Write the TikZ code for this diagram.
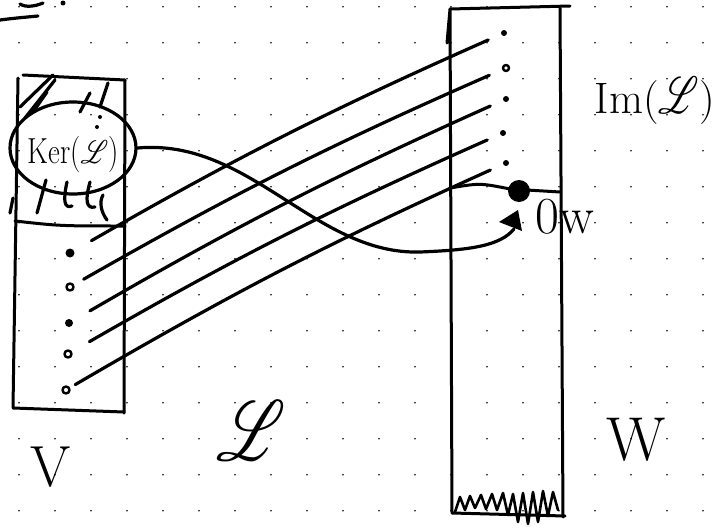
\documentclass[tikz,border=0pt]{standalone}
\usepackage{fontspec}
\usepackage{graphicx}
\usepackage{mathrsfs}
\usetikzlibrary{shapes.geometric}
% script L at any size (the rsfs font has no large design sizes)
\newcommand\scriptL[2]{\scalebox{#1}[#2]{\normalsize$\mathscr{L}$}}

\begin{document}
\begin{tikzpicture}[x=1pt,y=-1pt,line cap=round,line join=round,
  ink/.style={line width=3.2pt},
  frame/.style={line width=3pt},
  thin ink/.style={line width=2.6pt},
  blob/.style={circle,fill,inner sep=0pt,minimum size=#1},
  ring/.style={circle,draw,line width=2.4pt,inner sep=0pt,minimum size=#1},
  maplink/.style={line width=3.2pt,shorten <=#1,shorten >=14pt},
  hand/.style={font=\fontsize{#1}{#1}\selectfont,inner sep=0pt}]
\useasboundingbox (0,0) rectangle (720,530);

% dotted paper
\foreach \i in {0,...,19}
  \foreach \j in {0,...,14}
    \fill (19+36*\i,6.7+36*\j) circle (0.9);

% fragment of a heading cut by the top edge
\draw[ink] (0,20) .. controls (15,18) and (28,17) .. (38,16);
\draw[ink] (20,4) .. controls (26,8) and (36,6) .. (43,3);
\fill (63,3) circle (2.5);

% the space V
\draw[frame] (23,75) -- (125,80) -- (124,413);
\draw[frame] (18,78) -- (13,408) -- (124,412);
\draw[frame] (15,221) .. controls (60,226) .. (125,226);

% hatching of the kernel part
\draw[ink] (20,107) -- (53,75);
\draw[ink] (25,118) -- (55,80);
\draw[ink] (33,112) -- (47,92);
\draw[ink] (80,112) -- (90,93);
\draw[ink] (100,107) -- (108,83);
\fill (100,117) circle (2);
\fill (97,127) circle (2);
\draw[ink] (37,213) -- (46,180);
\draw[ink] (67,182) .. controls (63,200) and (64,209) .. (72,206);
\draw[ink] (90,182) .. controls (85,200) and (86,209) .. (95,207);
\draw[ink] (103,195) .. controls (99,202) and (101,212) .. (107,220);
\draw[ink] (13,198) -- (10,213);

% kernel
\node[ellipse,draw,ink,minimum width=126pt,minimum height=92pt,inner sep=0pt] (ker) at (73,148) {};
\node[hand=29,yscale=1.25] (kerlabel) at (73,154) {Ker(\scriptL{2.6}{2.6})};

% points of V
\node[blob=9pt] (v1) at (70,253) {};
\node[ring=7pt] (v2) at (70,287) {};
\node[blob=8pt] (v3) at (69,323) {};
\node[ring=7pt] (v4) at (68,354) {};
\node[ring=7pt] (v5) at (66,390) {};

% the space W
\draw[frame] (450,9) -- (570,6);
\draw[frame] (447,43) -- (450,9) -- (452,513) -- (565,516);
\draw[frame] (560,8) -- (563,517);
\draw[frame] (450,188) .. controls (480,183) .. (510,189) -- (560,192);
\node[blob=22pt] (zero) at (519,191) {};

% points of the image
\node[blob=6pt] (w1) at (504,33) {};
\node[ring=6pt] (w2) at (506,68) {};
\node[blob=6pt] (w3) at (506,99) {};
\node[blob=6pt] (w4) at (503,133) {};
\node[blob=6pt] (w5) at (506,163) {};

% scribble at the foot of W
\draw[thin ink] (455,512) -- (460,497) -- (465,510) -- (470,496) -- (475,508) -- (481,495)
  -- (486,509) -- (492,494) -- (497,510) -- (503,493) -- (508,515) -- (513,494)
  -- (518,522) -- (523,493) -- (528,524) -- (533,492) -- (538,522) -- (543,491)
  -- (548,516) -- (553,492) -- (558,510);

% the map L sends each point to the image
\draw[maplink=20pt] (v1) to[bend left=3] (w1);
\draw[maplink=11pt] (v2) to[bend left=3] (w2);
\draw[maplink=20pt] (v3) to[bend left=3] (w3);
\draw[maplink=20pt] (v4) to[bend left=3] (w4);
\draw[maplink=6pt] (v5) to[bend left=3] (w5);

% the kernel goes to the zero vector
\coordinate (tip) at (514,229);
\draw[ink] (ker.east) .. controls (250,138) and (315,255) .. (420,252)
  .. controls (470,250) and (500,246) .. (tip);
\fill (499,222) -- (518,210) -- (522,231) -- cycle;

% labels
\node[hand=52] (zerolabel) at (565,217) {0w};
\node[hand=44] (imlabel) at (655,101) {Im(\scriptL{3.8}{5.2})};
\node[hand=58] (vlabel) at (51,467) {V};
\node[hand=62] (wlabel) at (636,440) {W};
\node (llabel) at (251,431) {\scriptL{6.5}{8.5}};
\end{tikzpicture}
\end{document}
